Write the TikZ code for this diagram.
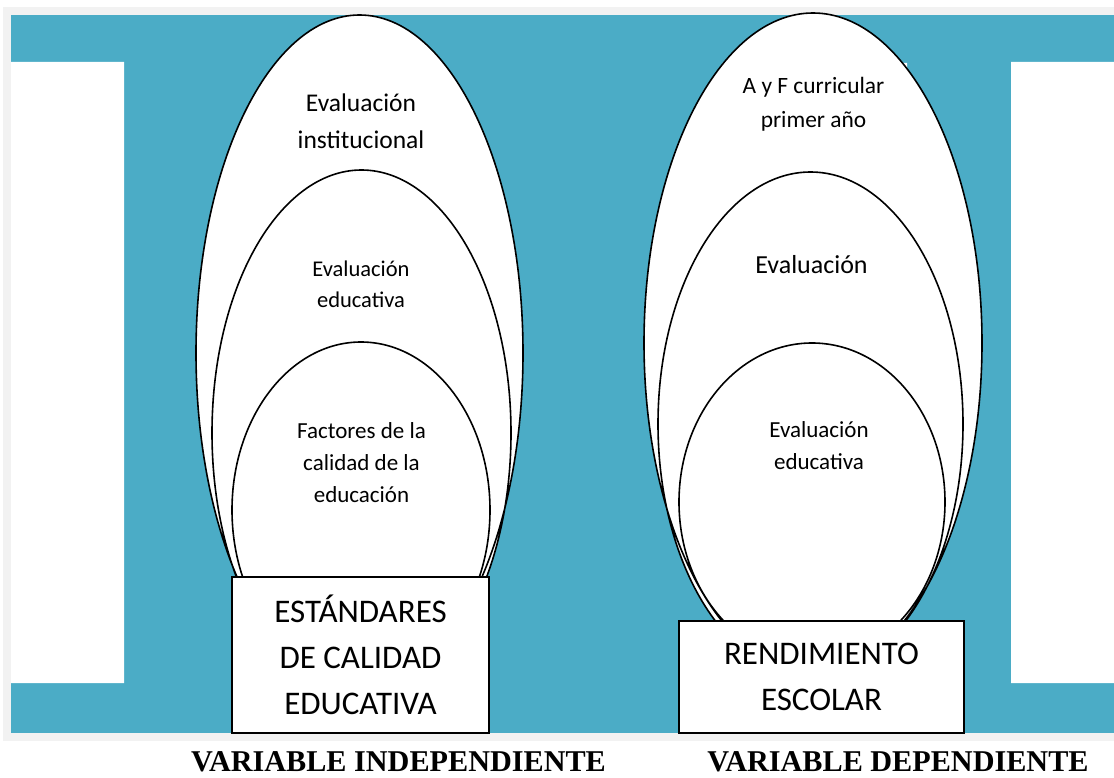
\documentclass[tikz,border=0pt]{standalone}
\usepackage{fontspec}
\setmainfont{Carlito}
\newfontfamily\tnr{Liberation Serif}
\usepackage{tikz}
\usepackage{xcolor}
\definecolor{accentblue}{HTML}{4BACC6}
\definecolor{framegray}{HTML}{F2F2F2}

\begin{document}
\begin{tikzpicture}[x=1pt,y=-1pt]
	\tikzstyle{oval} = [draw=black, line width=1.6]
	\tikzstyle{varbox} = [draw=black, line width=1.4, fill=white, inner sep=0pt, align=center, font=\fontsize{33}{46}\selectfont]
	\tikzstyle{txt} = [align=center, inner sep=0pt]
	\tikzstyle{vartitle} = [anchor=base, inner sep=0pt, text depth=0pt, font=\tnr\bfseries\fontsize{30.2}{36}\selectfont]
	\useasboundingbox (0,0) rectangle (1114,778);
	% background
	\fill[white] (0,0) rectangle (1114,778);
	\fill[framegray] (3,7) rectangle (1114,741);
	\fill[accentblue] (11,15) rectangle (1114,733);
	\fill[white]
			(11,62) rectangle (124,683)
			(1011,62) rectangle (1114,683)
			(265,78) rectangle (455,170)
			(722,63) rectangle (907,150);
	% ovals
	\fill [white]
			(359.5,353) ellipse (163.5 and 338)
			(361.5,433) ellipse (149.5 and 263)
			(361,510) ellipse (129 and 168)
			(813,343) ellipse (169 and 330)
			(810.5,424) ellipse (152.5 and 252)
			(812,502) ellipse (133 and 159);
	\draw [oval]
			(359.5,353) ellipse (163.5 and 338)
			(361.5,433) ellipse (149.5 and 263)
			(361,510) ellipse (129 and 168)
			(813,343) ellipse (169 and 330)
			(810.5,424) ellipse (152.5 and 252)
			(812,502) ellipse (133 and 159);
		\node[txt, font=\fontsize{25.5}{37}\selectfont] (inst) at (361,121.5) {Evaluación\\institucional};
		\node[txt, font=\fontsize{22.5}{31}\selectfont] (educL) at (361,284.5) {Evaluación\\educativa};
		\node[txt, font=\fontsize{23}{32}\selectfont] (fact) at (361.5,463) {Factores de la\\calidad de la\\educación};
		\node[txt, font=\fontsize{23.4}{34}\selectfont] (ayf) at (813.5,104) {A y F curricular\\primer año};
		\node[txt, font=\fontsize{26}{34}\selectfont] (evalR) at (811.5,265) {Evaluación};
		\node[txt, font=\fontsize{23}{32}\selectfont] (educR) at (819,446) {Evaluación\\educativa};
		\node[varbox, minimum width=257, minimum height=156] (std) at (360.5,655) {ESTÁNDARES\\DE CALIDAD\\EDUCATIVA};
		\node[varbox, minimum width=285, minimum height=112] (rend) at (821.5,677) {RENDIMIENTO\\ESCOLAR};
		\node[vartitle] (indep) at (398.5,771) {VARIABLE INDEPENDIENTE};
		\node[vartitle] (dep) at (898,771) {VARIABLE DEPENDIENTE};
	\end{tikzpicture}
\end{document}
